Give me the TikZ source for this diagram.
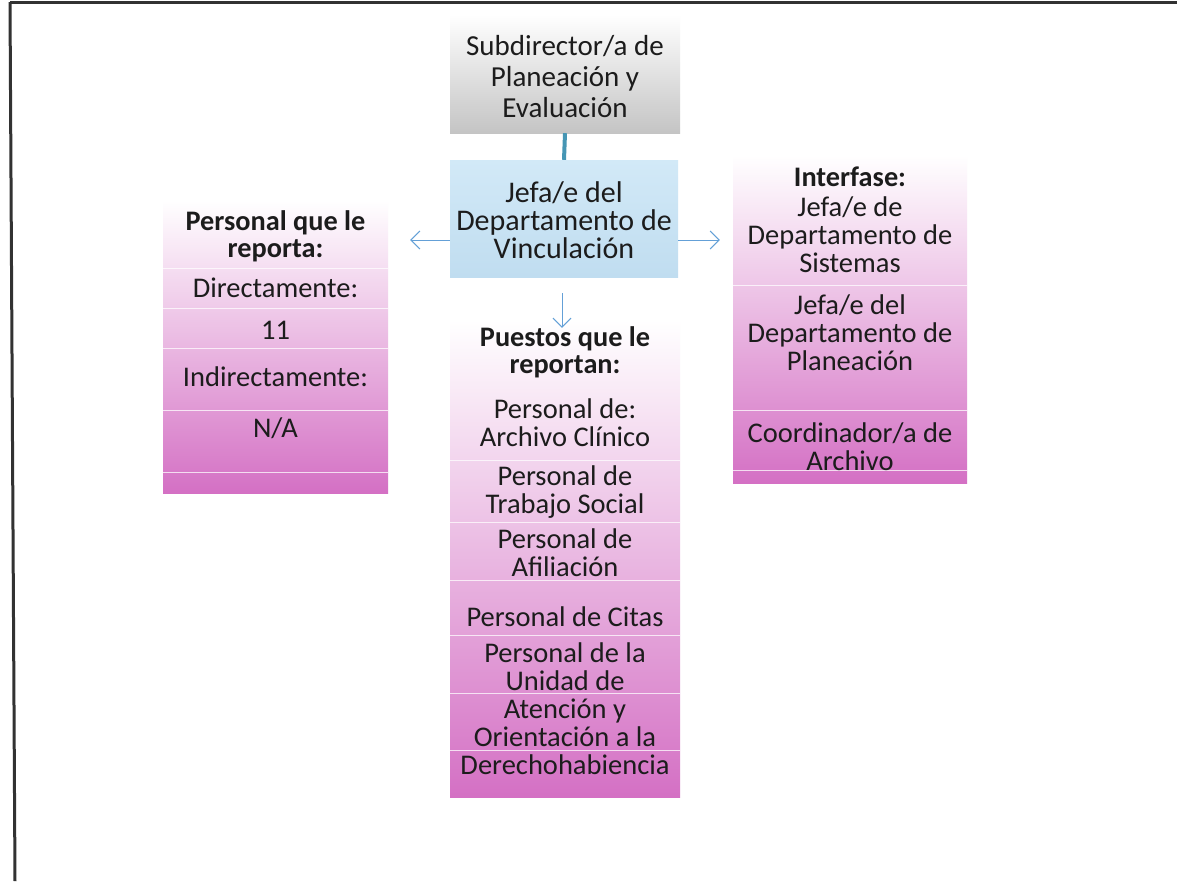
\documentclass[tikz,border=0pt]{standalone}
\usepackage{fontspec}
\setmainfont{Carlito}
\usetikzlibrary{arrows.meta}
\definecolor{txt}{RGB}{28,28,28}
\definecolor{magen}{RGB}{212,112,196}
\definecolor{pinkmid}{RGB}{236,188,228}
\definecolor{grayb}{RGB}{196,196,196}
\definecolor{bluetop}{RGB}{210,233,247}
\definecolor{bluebot}{RGB}{192,221,240}
\definecolor{arrowblue}{RGB}{100,160,215}
\definecolor{connteal}{RGB}{70,150,180}
\definecolor{bordc}{RGB}{50,50,50}
\begin{document}
\begin{tikzpicture}[x=1pt,y=-1pt,
  txtnode/.style={text=txt, align=center, inner sep=0pt, font=\fontsize{28.5}{28}\selectfont},
  hdr/.style={text=txt, align=center, inner sep=0pt, font=\fontsize{28.3}{27}\selectfont\bfseries},
  pinkbox/.style={draw=none, inner sep=0pt, top color=white, middle color=pinkmid, bottom color=magen},
  graybox/.style={draw=none, inner sep=0pt, top color=white, bottom color=grayb},
  bluebox/.style={draw=none, inner sep=0pt, top color=bluetop, bottom color=bluebot},
  sep/.style={white, line width=1pt, opacity=0.75},
  arr/.style={arrowblue, line width=1pt, -{Straight Barb[length=9pt,width=18pt]}}
]
\useasboundingbox (0,0) rectangle (1177,881);
\fill[white] (0,0) rectangle (1177,881);
% frame
\draw[bordc, line width=3pt] (10,2) -- (1177,2);
\draw[bordc, line width=3pt] (10,2) -- (15,881);

% boxes
\node[graybox, minimum width=230pt, minimum height=118pt] (sub) at (565,74) {};
\node[bluebox, minimum width=228pt, minimum height=117pt] (jefe) at (564,218.5) {};
\node[pinkbox, minimum width=225pt, minimum height=293pt] (lbox) at (275.5,346.5) {};
\node[pinkbox, minimum width=234pt, minimum height=328pt] (rbox) at (850,319) {};
\node[pinkbox, minimum width=230pt, minimum height=477pt] (cbox) at (565,558.5) {};

% separators
\foreach \yy in {268,308,348,410,472}
  \draw[sep] (lbox.west |- 0,\yy) -- (lbox.east |- 0,\yy);
\foreach \yy in {285,410,470}
  \draw[sep] (rbox.west |- 0,\yy) -- (rbox.east |- 0,\yy);
\foreach \yy in {460,522,580,635,693,750}
  \draw[sep] (cbox.west |- 0,\yy) -- (cbox.east |- 0,\yy);

% texts
\node[txtnode, font=\fontsize{29}{31}\selectfont] (subt) at (565,77) {Subdirector/a de\\Planeación y\\Evaluación};
\node[txtnode, font=\fontsize{30}{28}\selectfont] (jefet) at (564,220) {Jefa/e del\\Departamento de\\Vinculación};

\node[hdr] (lhdr) at (275.5,236) {Personal que le\\reporta:};
\node[txtnode] (ldir) at (275.5,288) {Directamente:};
\node[txtnode] (lonce) at (275.5,330) {11};
\node[txtnode] (lind) at (275.5,377) {Indirectamente:};
\node[txtnode] (lna) at (275.5,428) {N/A};

\node[hdr] (rhdr) at (850,177) {Interfase:};
\node[txtnode] (r1) at (850,235) {Jefa/e de\\Departamento de\\Sistemas};
\node[txtnode] (r2) at (850,333) {Jefa/e del\\Departamento de\\Planeación};
\node[txtnode] (r3) at (850,447) {Coordinador/a de\\Archivo};

\node[hdr] (chdr) at (565,352) {Puestos que le\\reportan:};
\node[txtnode] (c1) at (565,423) {Personal de:\\Archivo Clínico};
\node[txtnode] (c2) at (565,492) {Personal de\\Trabajo Social};
\node[txtnode] (c3) at (565,553) {Personal de\\Afiliación};
\node[txtnode] (c4) at (565,617) {Personal de Citas};
\node[txtnode] (c5) at (565,709) {Personal de la\\Unidad de\\Atención y\\Orientación a la\\Derechohabiencia};

% connectors
\draw[connteal, line width=4pt] (sub.south) -- (jefe.north);
\draw[arr, shorten >=22pt] ([yshift=-21.5pt]jefe.west) -- ([yshift=-21.5pt]jefe.west -| lbox.east);
\draw[arr, shorten >=13pt] ([yshift=-21.5pt]jefe.east) -- ([yshift=-21.5pt]jefe.east -| rbox.west);
\draw[arr, shorten <=16pt, shorten >=-8pt] ([xshift=-2pt]jefe.south) -- ([xshift=-2pt]jefe.south |- cbox.north);
\end{tikzpicture}
\end{document}
